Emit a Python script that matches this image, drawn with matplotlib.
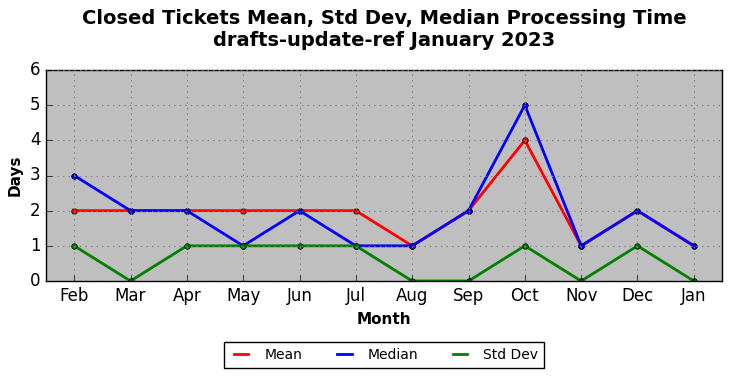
import matplotlib
matplotlib.use("Agg")
import matplotlib.pyplot as plt
from matplotlib.lines import Line2D

plt.style.use("classic")

months = ["Feb", "Mar", "Apr", "May", "Jun", "Jul", "Aug", "Sep", "Oct", "Nov", "Dec", "Jan"]
mean_vals = [2, 2, 2, 2, 2, 2, 1, 2, 4, 1, 2, 1]
median_vals = [3, 2, 2, 1, 2, 1, 1, 2, 5, 1, 2, 1]
std_vals = [1, 0, 1, 1, 1, 1, 0, 0, 1, 0, 1, 0]

fig = plt.figure(figsize=(7.32, 3.78), dpi=100, facecolor="white")
ax = fig.add_axes([46/732, 1-281/378, (722-46)/732, (281-70)/378])
ax.set_facecolor("#bfbfbf")
x = list(range(len(months)))
ax.plot(x, mean_vals, color="red", lw=2, marker="o", ms=4, mec="black", mew=0.5, label="Mean")
ax.plot(x, median_vals, color="blue", lw=2, marker="o", ms=4, mec="black", mew=0.5, label="Median")
ax.plot(x, std_vals, color="green", lw=2, marker="o", ms=4, mec="black", mew=0.5, label="Std Dev")
ax.set_xlim(-0.5, len(months) - 0.5)
ax.set_ylim(0, 6)
ax.set_xticks(x)
ax.set_xticklabels(months)
ax.tick_params(labelsize=12, top=False, right=False)
ax.grid(True, color="#808080", linestyle=":", linewidth=0.8)
ax.set_xlabel("Month", fontsize=11, fontweight="bold")
ax.set_ylabel("Days", fontsize=11, fontweight="bold")
fig.text(384/732, 1-9/378, "Closed Tickets Mean, Std Dev, Median Processing Time\ndrafts-update-ref January 2023",
         ha="center", va="top", fontsize=14, fontweight="bold", linespacing=1.2)
handles = [Line2D([], [], color=c, lw=2) for c in ["red", "blue", "green"]]
fig.legend(handles, ["Mean", "Median", "Std Dev"], loc="center", bbox_to_anchor=(384/732, 1-355/378),
           ncol=3, fontsize=10, frameon=True, fancybox=False, columnspacing=2.2,
           handlelength=1.65, handletextpad=0.85)
fig.savefig("out.png", dpi=100, facecolor="white")
